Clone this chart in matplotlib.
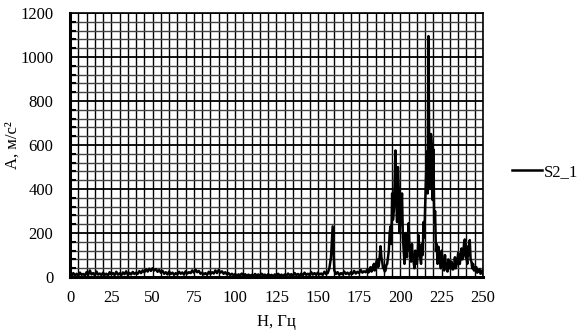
import numpy as np
import matplotlib
matplotlib.use("AGG")
import matplotlib.pyplot as plt
from matplotlib.ticker import MultipleLocator

plt.rcParams['font.family'] = ['Liberation Serif', 'DejaVu Serif']

# amplitude, m/s^2 : 0..179 Hz at 1 Hz step
freq_lo = list(range(0, 180))
amp_lo = [
    12, 5, 18, 8, 15, 6, 20, 10, 14, 7,
    22, 9, 30, 12, 18, 8, 25, 11, 16, 9,
    20, 10, 15, 7, 22, 12, 18, 9, 24, 11,
    17, 8, 21, 13, 26, 10, 19, 12, 23, 14,
    20, 15, 27, 18, 30, 22, 35, 25, 38, 28,
    40, 30, 36, 24, 32, 20, 28, 15, 22, 12,
    25, 14, 20, 10, 18, 12, 24, 15, 21, 11,
    26, 16, 22, 18, 30, 20, 34, 22, 28, 15,
    20, 12, 18, 10, 24, 14, 22, 16, 30, 18,
    32, 20, 26, 15, 22, 12, 18, 9, 15, 8,
    14, 6, 12, 8, 16, 7, 13, 5, 11, 6,
    10, 5, 14, 7, 12, 6, 15, 8, 11, 5,
    13, 6, 10, 4, 12, 7, 15, 6, 11, 5,
    12, 7, 16, 8, 13, 6, 18, 9, 14, 7,
    16, 8, 20, 10, 15, 9, 22, 11, 18, 10,
    20, 12, 16, 10, 24, 14, 18, 40, 90, 230,
    30, 14, 22, 10, 18, 12, 25, 14, 20, 11,
    22, 15, 28, 16, 24, 18, 32, 20, 26, 22,
]
# 180..250 Hz at 0.5 Hz step
freq_hi = [180 + 0.5 * i for i in range(141)]
amp_hi = [
    35, 20, 25, 40, 45, 25, 30, 50, 60, 30,
    40, 70, 80, 45, 55, 100, 140, 90, 70, 40,
    45, 25, 30, 55, 60, 90, 120, 200, 230, 150,
    380, 260, 300, 420, 575, 350, 250, 500, 400, 200,
    260, 330, 380, 180, 120, 60, 200, 140, 90, 180,
    245, 130, 110, 70, 150, 90, 70, 40, 120, 80,
    60, 110, 190, 100, 90, 60, 150, 100, 250, 180,
    330, 450, 570, 380, 1095, 500, 400, 650, 600, 350,
    580, 250, 300, 120, 150, 60, 138, 90, 80, 40,
    120, 70, 60, 30, 100, 50, 45, 25, 80, 40,
    40, 60, 70, 35, 35, 50, 90, 40, 55, 80,
    110, 60, 60, 100, 130, 80, 100, 150, 171, 90,
    90, 60, 140, 100, 168, 80, 70, 40, 60, 30,
    30, 45, 45, 20, 25, 35, 35, 15, 20, 30,
    15,
]
series_name = "S2_1"

freq = freq_lo + freq_hi
amp = amp_lo + amp_hi

fig = plt.figure(figsize=(5.81, 3.33), dpi=100)
ax = fig.add_axes([0.1205, 0.168, 0.7108, 0.793])

ax.plot(freq, amp, color="black", lw=1.8, label=series_name)

ax.set_xlim(0, 250)
ax.set_ylim(0, 1200)
ax.xaxis.set_major_locator(MultipleLocator(25))
ax.xaxis.set_minor_locator(MultipleLocator(5))
ax.yaxis.set_major_locator(MultipleLocator(200))
ax.yaxis.set_minor_locator(MultipleLocator(40))

ax.grid(True, which="major", axis="y", color="black", lw=1.3)
ax.grid(True, which="minor", axis="y", color="#444444", lw=1.0)
ax.grid(True, which="both", axis="x", color="black", lw=1.0)
ax.set_axisbelow(True)

for s in ax.spines.values():
    s.set_color("black")
    s.set_linewidth(1.2)
ax.spines["left"].set_linewidth(2.2)
ax.spines["bottom"].set_linewidth(2.2)

ax.tick_params(axis="x", which="both", length=0, pad=9, labelsize=12)
ax.tick_params(axis="y", which="major", length=0, pad=12, labelsize=12)
ax.tick_params(axis="y", which="minor", length=4, width=1.5, direction="in")

ax.set_xlabel("Н, Гц", fontsize=12)
ax.set_ylabel("А, м/с²", fontsize=12)
ax.xaxis.set_label_coords(0.5, -0.14)
ax.yaxis.set_label_coords(-0.12, 0.5)

fig.legend(loc="center left", bbox_to_anchor=(0.882, 0.483), frameon=False,
           fontsize=12, handlelength=1.8, handletextpad=0.1, borderpad=0,
           borderaxespad=0)

fig.savefig("out.png", dpi=100)
